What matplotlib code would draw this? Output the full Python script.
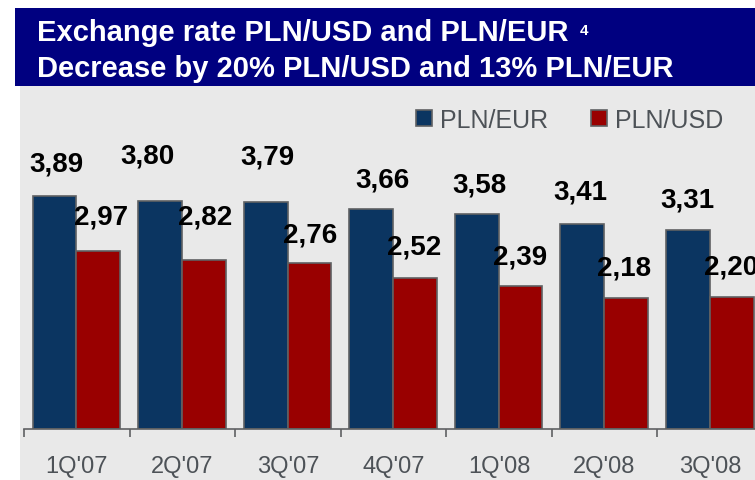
import matplotlib
matplotlib.use("Agg")
import matplotlib.pyplot as plt
from matplotlib.patches import Rectangle
import numpy as np

categories = ["1Q'07", "2Q'07", "3Q'07", "4Q'07", "1Q'08", "2Q'08", "3Q'08"]
pln_eur = [3.89, 3.80, 3.79, 3.66, 3.58, 3.41, 3.31]
pln_usd = [2.97, 2.82, 2.76, 2.52, 2.39, 2.18, 2.20]
labels_eur = ["3,89", "3,80", "3,79", "3,66", "3,58", "3,41", "3,31"]
labels_usd = ["2,97", "2,82", "2,76", "2,52", "2,39", "2,18", "2,20"]
series_names = ["PLN/EUR", "PLN/USD"]
title1 = "Exchange rate PLN/USD and PLN/EUR"
title_sup = "4"
title2 = "Decrease by 20% PLN/USD and 13% PLN/EUR"

# label placement tweaks (pixels)
eur_dx = [2, -13, 1, 11, 2, -2, -1]
eur_dy = [32, 45, 45, 30, 30, 33, 31]
usd_dx = [2, 1, 0, -1, -1, -2, -1]
usd_dy = [34, 43, 29, 31, 29, 31, 30]

plt.rcParams['font.family'] = ['Liberation Sans', 'DejaVu Sans']

W, H = 755, 481
fig = plt.figure(figsize=(W / 100, H / 100), dpi=100)
fig.patch.set_facecolor("white")

def fx(px):
    return px / W

def fy(py):
    return (H - py) / H

# background panels
fig.patches.append(Rectangle((fx(15), fy(87)), 1 - fx(15), fy(9) - fy(87),
                             transform=fig.transFigure, facecolor="#000080",
                             edgecolor="none", zorder=-10))
fig.patches.append(Rectangle((fx(20), 0), 1 - fx(20), fy(87),
                             transform=fig.transFigure, facecolor="#e9e9e9",
                             edgecolor="none", zorder=-10))

# title
fig.text(fx(37), fy(41), title1, color="white", fontsize=21, fontweight="bold",
         va="baseline", ha="left")
fig.text(fx(580), fy(35), title_sup, color="white", fontsize=11, fontweight="bold",
         va="baseline", ha="left")
fig.text(fx(37), fy(77), title2, color="white", fontsize=21, fontweight="bold",
         va="baseline", ha="left")

left_px, base_px, top_px = 24, 430, 87
cat_w = 105.55
ax = fig.add_axes([fx(left_px), fy(base_px), 1 - fx(left_px), fy(top_px) - fy(base_px)])
ax.set_zorder(5)
ax.set_facecolor("none")
ppu = 60.0

x = np.arange(len(categories))
bw = 43.8 / cat_w
shift = -0.3 / cat_w
b1 = ax.bar(x - bw / 2 + shift, pln_eur, bw, color="#0b3561", edgecolor="#5f6163",
            linewidth=1.2, label=series_names[0], zorder=2)
b2 = ax.bar(x + bw / 2 + shift, pln_usd, bw, color="#990000", edgecolor="#5f6163",
            linewidth=1.2, label=series_names[1], zorder=2)

for i in range(len(categories)):
    ax.annotate(labels_eur[i], (x[i] - bw / 2, pln_eur[i]),
                xytext=(eur_dx[i] * 0.72, eur_dy[i] * 0.72), textcoords="offset points",
                ha="center", va="center", fontsize=20, fontweight="bold", color="black",
                annotation_clip=False)
    ax.annotate(labels_usd[i], (x[i] + bw / 2, pln_usd[i]),
                xytext=(usd_dx[i] * 0.72, usd_dy[i] * 0.72), textcoords="offset points",
                ha="center", va="center", fontsize=20, fontweight="bold", color="black",
                annotation_clip=False)

for s in ["left", "right", "top"]:
    ax.spines[s].set_visible(False)
ax.spines["bottom"].set_color("#5f6163")
ax.spines["bottom"].set_linewidth(1.2)
ax.set_yticks([])
ax.set_xticks(x)
ax.set_xticklabels(categories, fontsize=17, color="#4d5257")
ax.set_xticks(np.arange(len(categories) + 1) - 0.5, minor=True)
ax.tick_params(axis="x", which="major", length=0, pad=19)
ax.tick_params(axis="x", which="minor", length=5.5, width=1.2, color="#5f6163")

# limits set after ticks so set_xticks does not expand the view
ax.set_ylim(0, (base_px - top_px) / ppu)
ax.set_xlim(-0.5, -0.5 + (W - left_px) / cat_w)

leg = ax.legend(handles=[b1, b2], labels=series_names, loc="center left",
                bbox_to_anchor=(fx(416), fy(121)), bbox_transform=fig.transFigure,
                ncol=2, frameon=False, fontsize=18, handlelength=0.64,
                handleheight=0.64, handletextpad=0.32, columnspacing=1.7,
                borderpad=0, borderaxespad=0)
for t in leg.get_texts():
    t.set_color("#4d5257")

fig.savefig("out.png", dpi=100, facecolor=fig.get_facecolor())
